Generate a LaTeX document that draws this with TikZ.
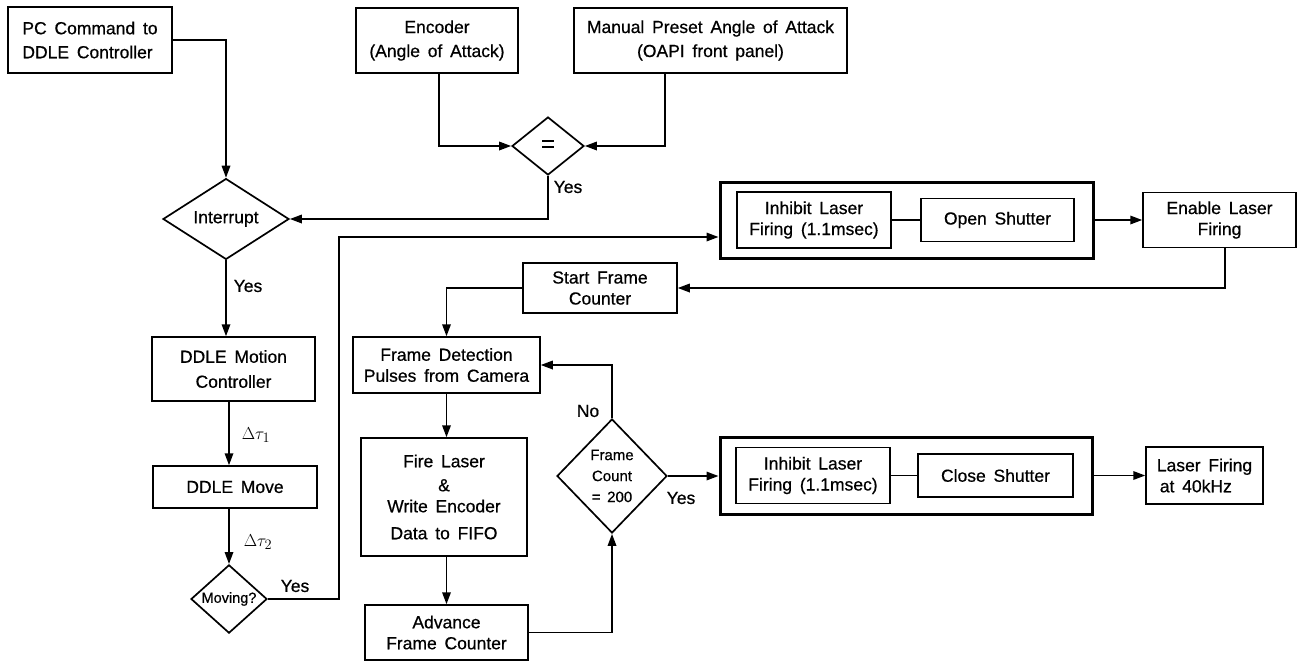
\documentclass[tikz,border=0pt]{standalone}
\usepackage{fontspec}
\setmainfont{Liberation Sans}[WordSpace=1.6,FakeBold=0.6]
\usetikzlibrary{arrows.meta,shapes.geometric}
\begin{document}
\begin{tikzpicture}[x=1pt,y=-1pt,
  every node/.style={font=\fontsize{17.5}{21}\selectfont, inner sep=0pt},
  box/.style={draw, rectangle, line width=1.5pt, align=center},
  thickbox/.style={draw, rectangle, line width=3pt},
  dia/.style={draw, diamond, line width=1.7pt, align=center},
  conn/.style={line width=1.7pt},
  arr/.style={conn, -{Triangle[length=12pt,width=8.5pt]}},
  small/.style={font=\fontsize{15}{21}\selectfont},
  mathlbl/.style={font=\fontsize{19}{21}\selectfont}]
\fill[white] (0,0) rectangle (1300,662);
\useasboundingbox (0,0) rectangle (1300,662);

% top row
\node[box, minimum width=164pt, minimum height=66pt, align=left] (pc) at (90,40) {PC Command to\\[3pt]DDLE Controller};
\node[box, minimum width=162pt, minimum height=65pt] (enc) at (437,40.5) {Encoder\\[3pt](Angle of Attack)};
\node[box, minimum width=273pt, minimum height=65pt] (man) at (710.5,40.5) {Manual Preset Angle of Attack\\[3pt](OAPI front panel)};
\node[dia, minimum width=72pt, minimum height=58pt, font=\fontsize{24}{24}\selectfont] (eq) at (548,146) {=};

% left column
\node[dia, minimum width=126pt, minimum height=58pt] (intr) at (226,219) {Interrupt};
\node[box, minimum width=163pt, minimum height=64pt] (motion) at (233.5,369) {DDLE Motion\\[4pt]Controller};
\node[box, minimum width=164pt, minimum height=42pt] (move) at (235,487) {DDLE Move};
\node[dia, minimum width=76pt, minimum height=60pt, font=\fontsize{14.5}{16}\selectfont] (moving) at (229,599) {Moving?};

% upper right group
\node[thickbox, minimum width=373pt, minimum height=76pt] (big1) at (906.5,220) {};
\node[box, minimum width=154pt, minimum height=56pt] (inh1) at (814,220) {Inhibit Laser\\Firing (1.1msec)};
\node[box, minimum width=153pt, minimum height=43pt] (open) at (997.5,220) {Open Shutter};
\node[box, minimum width=153pt, minimum height=55pt] (enable) at (1219.5,220) {Enable Laser\\Firing};

% middle column
\node[box, minimum width=154pt, minimum height=50pt] (start) at (600,288) {Start Frame\\Counter};
\node[box, minimum width=187pt, minimum height=56pt] (fdet) at (446.5,365) {Frame Detection\\Pulses from Camera};
\node[box, minimum width=166pt, minimum height=118pt] (fire) at (444,497) {Fire Laser\\[3pt]\&\\[0pt]Write Encoder\\[6pt]Data to FIFO};
\node[box, minimum width=163pt, minimum height=55pt] (adv) at (446.5,632.5) {Advance\\Frame Counter};
\node[dia, small, minimum width=110pt, minimum height=114pt] (fc) at (612,476) {Frame\\Count\\= 200};

% lower right group
\node[thickbox, minimum width=372pt, minimum height=77pt] (big2) at (906,475.5) {};
\node[box, minimum width=154pt, minimum height=56pt] (inh2) at (813,475.5) {Inhibit Laser\\Firing (1.1msec)};
\node[box, minimum width=155pt, minimum height=43pt] (close) at (995.5,475.5) {Close Shutter};
\node[box, minimum width=117pt, minimum height=57pt, align=left] (l40) at (1204.5,475.5) {Laser Firing\\\hspace*{3pt}at 40kHz};

% connectors
\draw[arr] (pc.east) -| (intr.north);
\draw[arr] ([xshift=2pt]enc.south) |- (eq.west);
\draw[arr] ([xshift=-45.5pt]man.south) |- (eq.east);
\draw[arr] (eq.south) |- (intr.east);
\node (yes1) at (568,187) {Yes};
\draw[arr] (intr.south) -- (intr.south |- motion.north);
\node (yes2) at (248,286) {Yes};
\draw[arr] (motion.south -| moving.north) -- (move.north -| moving.north);
\node[mathlbl] (dt1) at (256,435) {$\Delta\tau_1$};
\draw[arr] (move.south -| moving.north) -- (moving.north);
\node[mathlbl] (dt2) at (258,542) {$\Delta\tau_2$};
\coordinate (c1) at (339,601);
\draw[arr] (moving.east) -- (moving.east -| c1) |- ([yshift=-17pt]big1.west);
\node (yes3) at (295,586) {Yes};

\draw[conn] (inh1.east) -- (open.west);
\draw[arr] (big1.east) -- (enable.west);
\draw[arr] ([xshift=5.5pt]enable.south) |- (start.east);
\draw[arr] (start.west) -| (fdet.north);
\draw[arr] (fdet.south) -- (fdet.south |- fire.north);
\draw[arr] (fire.south -| fdet.south) -- (adv.north -| fdet.south);
\draw[arr] (adv.east) -| (fc.south);
\draw[arr] (fc.north) |- (fdet.east);
\node (no) at (588,411) {No};
\draw[arr] (fc.east) -- (fc.east -| big2.west);
\node (yes4) at (681,498) {Yes};
\draw[conn] (inh2.east) -- (close.west);
\draw[arr] (big2.east) -- (l40.west);
\end{tikzpicture}
\end{document}
